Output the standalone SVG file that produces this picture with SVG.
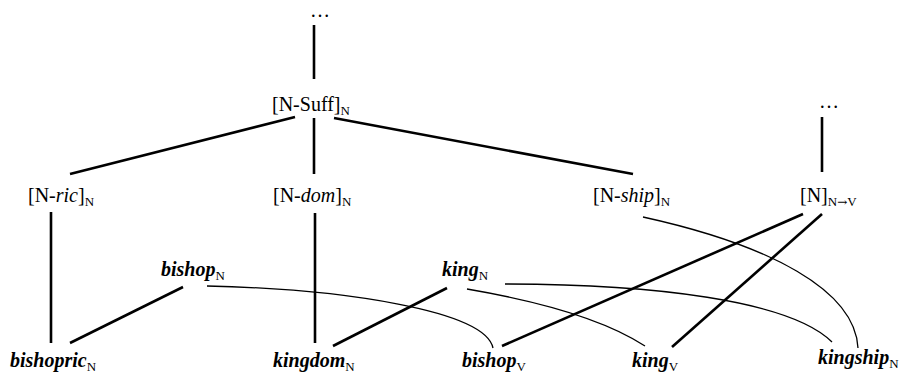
<svg xmlns="http://www.w3.org/2000/svg" width="903" height="380" viewBox="0 0 903 380">
<style>
text{font-family:"Liberation Serif","Times New Roman",serif;font-size:20px;fill:#000}
.it{font-style:italic}
.w{font-style:italic;font-weight:bold}
.sub{font-size:13px;font-style:normal;font-weight:normal}
.arr{font-family:"DejaVu Serif","Liberation Serif",serif;font-size:12px}
.thick{stroke:#000;stroke-width:2.6;fill:none;stroke-linecap:butt}
.thin{stroke:#000;stroke-width:1.3;fill:none}
</style>
<rect width="903" height="380" fill="#fff"/>
<g id="connectors">
<line class="thick" x1="314" y1="25" x2="314" y2="79"/>
<line class="thick" x1="295" y1="117" x2="70" y2="174"/>
<line class="thick" x1="314" y1="118" x2="314" y2="174"/>
<line class="thick" x1="334" y1="118" x2="633" y2="174"/>
<line class="thick" x1="822" y1="117" x2="822" y2="172"/>
<line class="thick" x1="51" y1="212" x2="51" y2="343"/>
<line class="thick" x1="315" y1="213" x2="315" y2="343"/>
<line class="thick" x1="183" y1="287" x2="70" y2="343"/>
<line class="thick" x1="447" y1="288" x2="333" y2="346"/>
<line class="thick" x1="803" y1="214" x2="502" y2="346"/>
<line class="thick" x1="822" y1="214" x2="672" y2="347"/>
<path class="thin" d="M207,286 C340,289 485,310 493,348"/>
<path class="thin" d="M467,289 Q590,310 645,346"/>
<path class="thin" d="M505,284 C650,284 790,300 832,342"/>
<path class="thin" d="M643,217 C770,245 855,290 858,348"/>
</g>
<g id="top-dots"><text x="320" y="17" text-anchor="middle">…</text></g>
<g id="n-suff"><text x="272" y="111">[N-Suff]<tspan class="sub" dy="4">N</tspan></text></g>
<g id="n-ric"><text x="28" y="202">[N-<tspan class="it">ric</tspan>]<tspan class="sub" dy="4">N</tspan></text></g>
<g id="n-dom"><text x="273" y="202">[N-<tspan class="it">dom</tspan>]<tspan class="sub" dy="4">N</tspan></text></g>
<g id="n-ship"><text x="593" y="202">[N-<tspan class="it">ship</tspan>]<tspan class="sub" dy="4">N</tspan></text></g>
<g id="right-dots"><text x="829" y="108" text-anchor="middle">…</text></g>
<g id="n-conv"><text x="800" y="202">[N]<tspan class="sub" dy="4">N<tspan class="arr">→</tspan>V</tspan></text></g>
<g id="bishop-n"><text class="w" x="161" y="276">bishop<tspan class="sub" dy="4">N</tspan></text></g>
<g id="king-n"><text class="w" x="442" y="276">king<tspan class="sub" dy="4">N</tspan></text></g>
<g id="bishopric-n"><text class="w" x="10" y="367">bishopric<tspan class="sub" dy="4">N</tspan></text></g>
<g id="kingdom-n"><text class="w" x="273" y="367">kingdom<tspan class="sub" dy="4">N</tspan></text></g>
<g id="bishop-v"><text class="w" x="462" y="367">bishop<tspan class="sub" dy="4">V</tspan></text></g>
<g id="king-v"><text class="w" x="632" y="367">king<tspan class="sub" dy="4">V</tspan></text></g>
<g id="kingship-n"><text class="w" x="818" y="364">kingship<tspan class="sub" dy="4">N</tspan></text></g>
</svg>
